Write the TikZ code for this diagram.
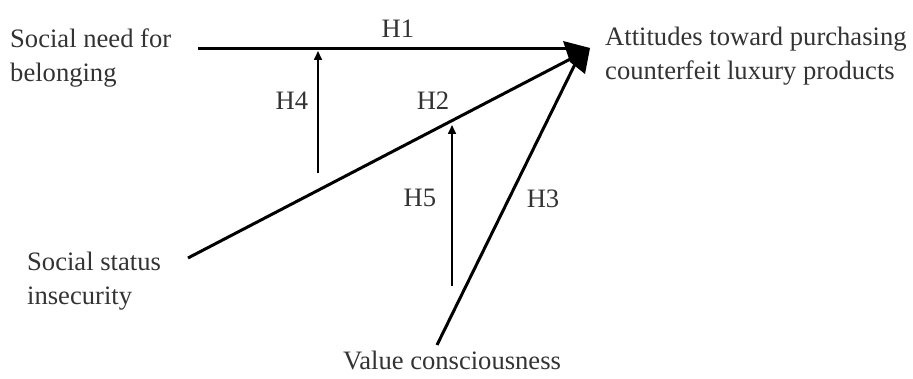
\documentclass[tikz,border=0pt]{standalone}
\usepackage{fontspec}
\setmainfont{Liberation Serif}
\usetikzlibrary{arrows.meta}
\begin{document}
\begin{tikzpicture}[x=1pt,y=-1pt,
  lbl/.style={inner sep=0pt,font=\fontsize{26.6}{34}\selectfont,text=black!80},
  con/.style={line width=3pt,black},
  mod/.style={line width=1.6pt,black,-{Triangle[length=9pt,width=8pt]}}]
\useasboundingbox (0,0) rectangle (913,379);
% texts
\node[lbl,anchor=north west,align=left] (need) at (10,29) {Social need for\\belonging};
\node[lbl,anchor=north west,align=left] (att) at (605,27) {Attitudes toward purchasing\\counterfeit luxury products};
\node[lbl,anchor=north west,align=left] (stat) at (27,252) {Social status\\insecurity};
\node[lbl,anchor=base] (val) at (452,370) {Value consciousness};
% endpoints
\coordinate (a1) at (198,49);
\coordinate (a2) at (188,258);
\coordinate (a3) at (437,345);
\coordinate (T) at (580,54);
\coordinate (h1end) at (575,49);
\draw[con] (a1) -- (h1end);
\draw[con] (a2) -- (T);
\draw[con] (a3) -- (T);
\fill[black] (563,41) -- (590,48) -- (585,74) -- (570,62) -- cycle;
% moderators
\coordinate (m4s) at (318,173);
\coordinate (m4e) at (318,51);
\coordinate (m5s) at (452,286);
\coordinate (m5e) at (452,125);
\draw[mod] (m4s) -- (m4e);
\draw[mod] (m5s) -- (m5e);
% hypothesis labels
\node[lbl] (H1) at (398,29) {H1};
\node[lbl] (H4) at (292,101) {H4};
\node[lbl] (H2) at (433,101) {H2};
\node[lbl] (H5) at (420,198) {H5};
\node[lbl] (H3) at (543,199) {H3};
\end{tikzpicture}
\end{document}
